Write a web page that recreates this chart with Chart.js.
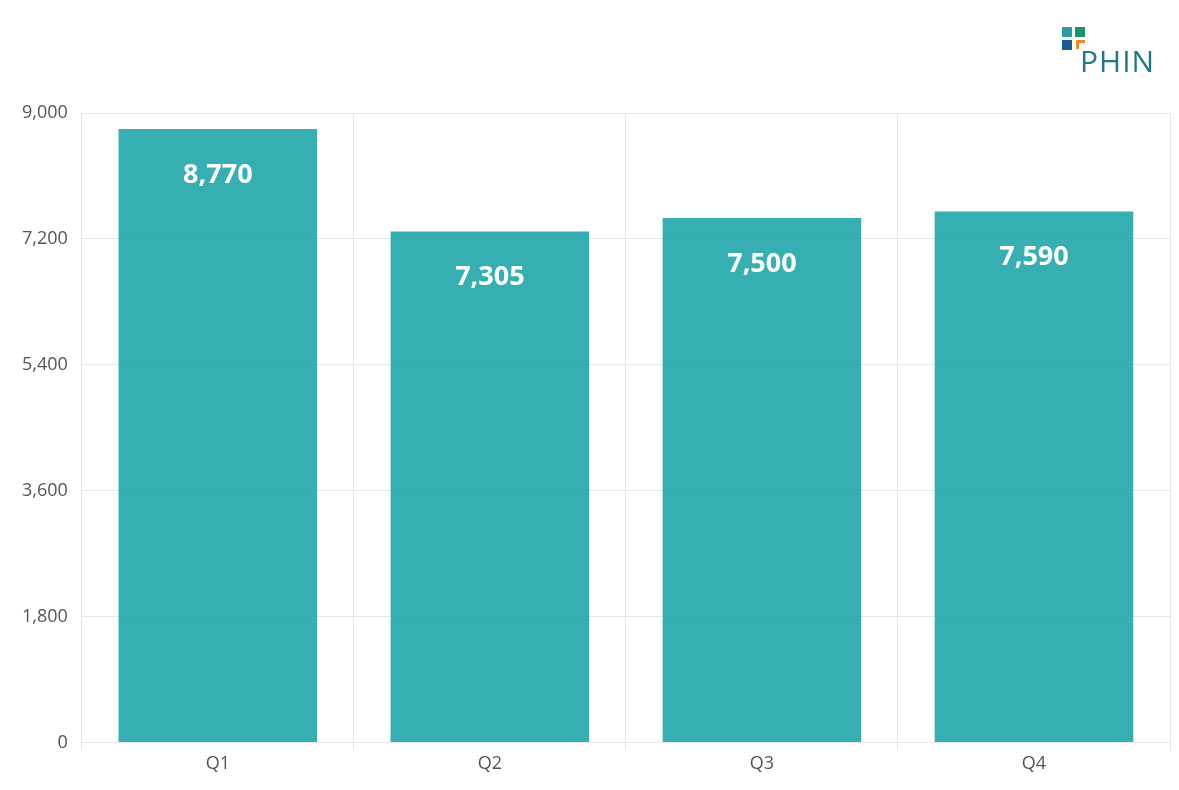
<!DOCTYPE html><html><head><meta charset="utf-8">
<script src="https://cdn.jsdelivr.net/npm/chart.js@4"></script>
<style>body{margin:0;background:#fff}#w{position:relative;width:1179px;height:790px}
.sq{position:absolute;width:10px;height:10px}
#logo{position:absolute;left:1080px;top:40px;font:30px "Open Sans",sans-serif;color:#1f7a85;letter-spacing:1px}</style></head><body>
<div id="w"><canvas id="c" width="1179" height="790"></canvas>
<div class="sq" style="left:1062px;top:27px;background:#2a9da0"></div>
<div class="sq" style="left:1075px;top:27px;background:#1b9370"></div>
<div class="sq" style="left:1062px;top:40px;background:#1c5a96"></div>
<div style="position:absolute;left:1076px;top:40px;width:9px;height:3px;background:#f08a24"></div>
<div style="position:absolute;left:1076px;top:40px;width:3px;height:9px;background:#f08a24"></div>
<div id="logo">PHIN</div></div>
<script>
const categories=["Q1","Q2","Q3","Q4"];
const values=[8770,7305,7500,7590];
const labelPlugin={id:'lbl',afterDatasetsDraw(ch){const c=ch.ctx;c.save();c.fillStyle='#fff';c.font='bold 27px "Open Sans",sans-serif';c.textAlign='center';c.textBaseline='middle';
ch.getDatasetMeta(0).data.forEach((b,i)=>c.fillText(values[i].toLocaleString('en-US'),b.x,b.y+46));c.restore();}};
new Chart(document.getElementById('c'),{type:'bar',data:{labels:categories,datasets:[{data:values,backgroundColor:'rgba(23,163,165,0.87)',barPercentage:0.73,categoryPercentage:1}]},
options:{responsive:false,animation:false,layout:{padding:{top:113,right:9,left:8,bottom:12}},plugins:{legend:{display:false},tooltip:{enabled:false}},
scales:{x:{grid:{color:'#e6e6e6'},border:{color:'#e6e6e6'},ticks:{color:'#555',font:{size:18,family:'"Open Sans",sans-serif'}}},
y:{min:0,max:9000,ticks:{stepSize:2000,color:'#555',padding:14,font:{size:18,family:'"Open Sans",sans-serif'}},grid:{color:'#e6e6e6',drawTicks:false},border:{display:false}}}},plugins:[labelPlugin]});
</script></body></html>
